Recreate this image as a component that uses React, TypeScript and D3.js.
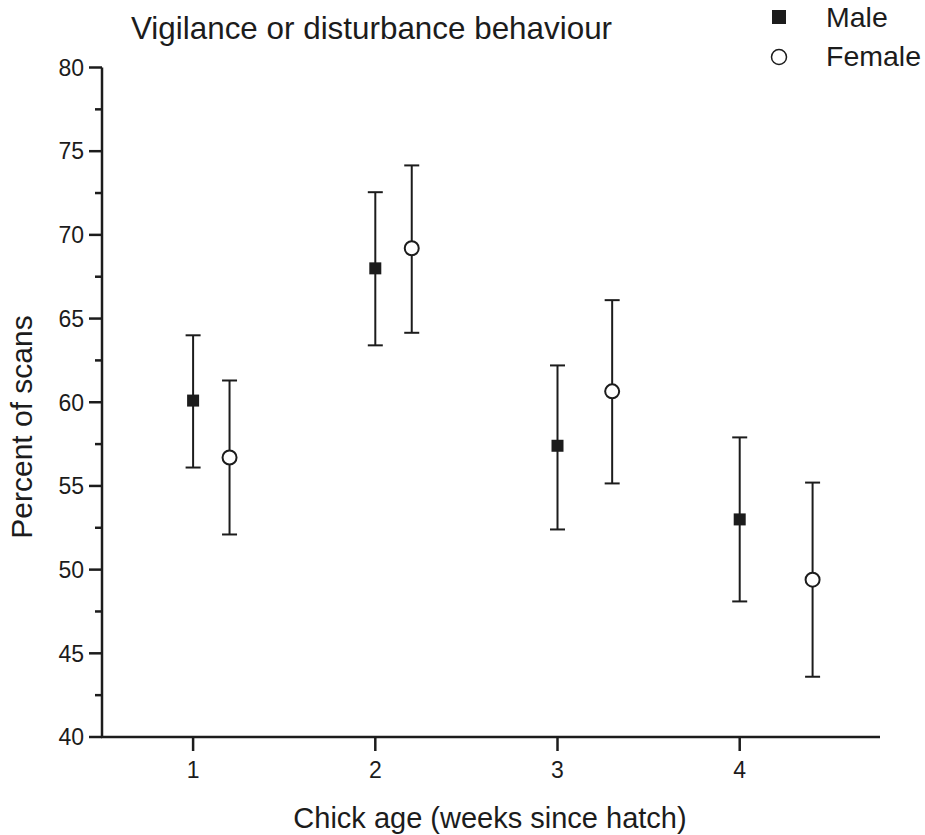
import React from "react";
import * as d3 from "d3";

// Chick age (weeks since hatch) and the sex-specific offsets on the x axis
const maleWeeks = [1, 2, 3, 4];
const femaleWeeks = [1.2, 2.2, 3.3, 4.4];

// Percent of scans: mean with lower / upper error limits
const maleMean = [60.1, 68.0, 57.4, 53.0];
const maleLow = [56.1, 63.4, 52.4, 48.1];
const maleHigh = [64.0, 72.55, 62.2, 57.9];

const femaleMean = [56.7, 69.2, 60.65, 49.4];
const femaleLow = [52.1, 64.15, 55.15, 43.6];
const femaleHigh = [61.3, 74.15, 66.1, 55.2];

const xTicks = [1, 2, 3, 4];
const yMajorTicks = [40, 45, 50, 55, 60, 65, 70, 75, 80];
const yMinorTicks = [42.5, 47.5, 52.5, 57.5, 62.5, 67.5, 72.5, 77.5];

const W = 925;
const H = 835;
const INK = "#1c1c1c";
const FONT = "'Liberation Sans', Arial, Helvetica, sans-serif";

export default function App() {
  const x = d3.scaleLinear().domain([0.5, 4.77]).range([102, 880]);
  const y = d3.scaleLinear().domain([40, 80]).range([737, 67.5]);

  const capHalf = 7.5;

  const errorBar = (xv: number, lo: number, hi: number, key: string) => {
    const cx = x(xv);
    return (
      <g key={key} stroke={INK} strokeWidth={2}>
        <line x1={cx} x2={cx} y1={y(lo)} y2={y(hi)} />
        <line x1={cx - capHalf} x2={cx + capHalf} y1={y(lo)} y2={y(lo)} />
        <line x1={cx - capHalf} x2={cx + capHalf} y1={y(hi)} y2={y(hi)} />
      </g>
    );
  };

  const sq = 12;
  const r = 7;

  return (
    <svg
      width={W}
      height={H}
      viewBox={`0 0 ${W} ${H}`}
      style={{ position: "absolute", left: 0, top: 0, background: "#fff" }}
      fontFamily={FONT}
    >
      {/* title */}
      <text x={131} y={39} fontSize={31.4} fill={INK}>
        Vigilance or disturbance behaviour
      </text>

      {/* legend */}
      <rect x={779 - 7} y={17 - 7} width={14} height={14} fill={INK} />
      <text x={826} y={27} fontSize={28.5} fill={INK}>
        Male
      </text>
      <circle cx={779} cy={57} r={7.5} fill="#fff" stroke={INK} strokeWidth={1.5} />
      <text x={826} y={66} fontSize={28.5} fill={INK}>
        Female
      </text>

      {/* y axis */}
      <g stroke={INK}>
        <line x1={x(0.5)} x2={x(0.5)} y1={y(40) + 1} y2={y(80)} strokeWidth={2.5} />
        {yMajorTicks.map((t) => (
          <line key={`ym${t}`} x1={x(0.5) - 13} x2={x(0.5)} y1={y(t)} y2={y(t)} strokeWidth={2.5} />
        ))}
        {yMinorTicks.map((t) => (
          <line key={`yn${t}`} x1={x(0.5) - 7} x2={x(0.5)} y1={y(t)} y2={y(t)} strokeWidth={2.5} />
        ))}
      </g>
      {yMajorTicks.map((t) => (
        <text
          key={`yl${t}`}
          x={84}
          y={y(t)}
          dy="0.36em"
          textAnchor="end"
          fontSize={23}
          fill={INK}
        >
          {t}
        </text>
      ))}

      {/* x axis */}
      <g stroke={INK}>
        <line x1={x(0.5) - 1} x2={x(4.77)} y1={y(40)} y2={y(40)} strokeWidth={2.5} />
        {xTicks.map((t) => (
          <line key={`xt${t}`} x1={x(t)} x2={x(t)} y1={y(40)} y2={y(40) + 14} strokeWidth={2.5} />
        ))}
      </g>
      {xTicks.map((t) => (
        <text key={`xl${t}`} x={x(t)} y={778} textAnchor="middle" fontSize={23} fill={INK}>
          {t}
        </text>
      ))}

      {/* axis titles */}
      <text x={490} y={828} textAnchor="middle" fontSize={29} fill={INK}>
        Chick age (weeks since hatch)
      </text>
      <text
        transform="translate(32,427) rotate(-90)"
        textAnchor="middle"
        fontSize={30}
        fill={INK}
      >
        Percent of scans
      </text>

      {/* error bars */}
      {maleWeeks.map((w, i) => errorBar(w, maleLow[i], maleHigh[i], `me${i}`))}
      {femaleWeeks.map((w, i) => errorBar(w, femaleLow[i], femaleHigh[i], `fe${i}`))}

      {/* means */}
      {maleWeeks.map((w, i) => (
        <rect
          key={`m${i}`}
          x={x(w) - sq / 2}
          y={y(maleMean[i]) - sq / 2}
          width={sq}
          height={sq}
          fill={INK}
        />
      ))}
      {femaleWeeks.map((w, i) => (
        <circle
          key={`f${i}`}
          cx={x(w)}
          cy={y(femaleMean[i])}
          r={r}
          fill="#fff"
          stroke={INK}
          strokeWidth={2}
        />
      ))}
    </svg>
  );
}
